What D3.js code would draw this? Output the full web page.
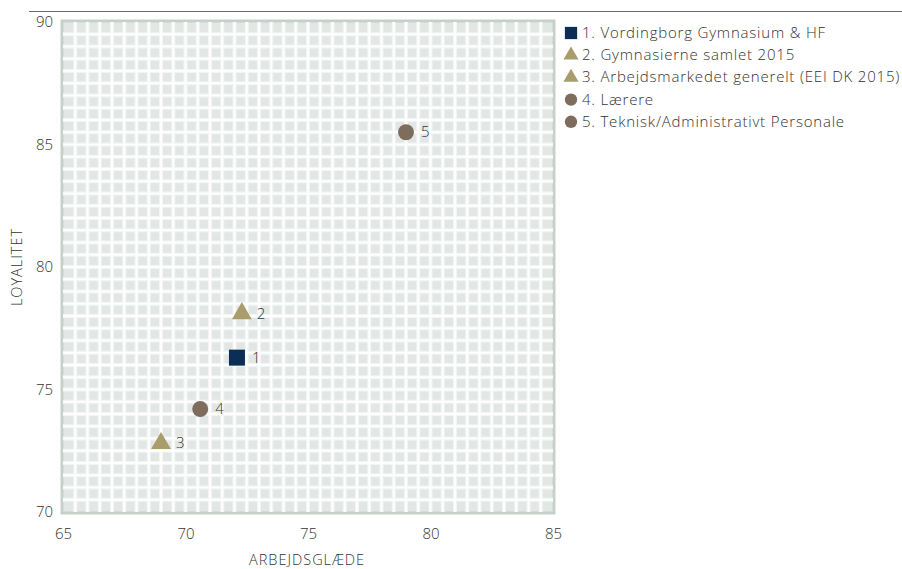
<!DOCTYPE html>
<html><head><meta charset="utf-8">
<script src="https://cdn.jsdelivr.net/npm/d3@7"></script>
<style>body{margin:0;background:#fff}svg{display:block}text{font-family:"Open Sans",sans-serif;font-weight:300;fill:#333}</style>
</head><body>
<svg id="c" width="902" height="569"></svg>
<script>
const labels = ["1. Vordingborg Gymnasium & HF","2. Gymnasierne samlet 2015","3. Arbejdsmarkedet generelt (EEI DK 2015)","4. Lærere","5. Teknisk/Administrativt Personale"];
const pointIds = ["1","2","3","4","5"];
const xValues = [72.1, 72.3, 69.0, 70.6, 79.0];
const yValues = [76.3, 78.1, 72.8, 74.2, 85.5];
const shapes = ["square","triangle","triangle","circle","circle"];
const xTicks = [65,70,75,80,85];
const yTicks = [70,75,80,85,90];
const colors = {square:"#0b2e57", triangle:"#a99c6d", circle:"#7e6c5d"};

const svg = d3.select("#c");
const x = d3.scaleLinear().domain([65,85]).range([63,553]);
const y = d3.scaleLinear().domain([70,90]).range([512,22]);

svg.append("line").attr("x1",29).attr("x2",902).attr("y1",11.5).attr("y2",11.5).attr("stroke","#6b6b6b").attr("stroke-width",1);

svg.append("rect").attr("x",x(65)-1).attr("y",y(90)-1).attr("width",x(85)-x(65)+2).attr("height",y(70)-y(90)+2)
  .attr("fill","#e2e7e5").attr("stroke","#c6d1ca").attr("stroke-width",3);
const gridX = d3.range(65.5,85,0.5), gridY = d3.range(70.5,90,0.5);
const g = svg.append("g");
g.selectAll(".gx").data(gridX).join("line").attr("x1",d=>x(d)).attr("x2",d=>x(d)).attr("y1",y(90)).attr("y2",y(70)).attr("stroke","#f2f5f4").attr("stroke-width",4);
g.selectAll(".gy").data(gridY).join("line").attr("x1",x(65)).attr("x2",x(85)).attr("y1",d=>y(d)).attr("y2",d=>y(d)).attr("stroke","#f2f5f4").attr("stroke-width",4);
g.selectAll(".gx2").data(gridX).join("line").attr("x1",d=>x(d)).attr("x2",d=>x(d)).attr("y1",y(90)).attr("y2",y(70)).attr("stroke","#ffffff").attr("stroke-width",1.6);
g.selectAll(".gy2").data(gridY).join("line").attr("x1",x(65)).attr("x2",x(85)).attr("y1",d=>y(d)).attr("y2",d=>y(d)).attr("stroke","#ffffff").attr("stroke-width",1.6);

const xa = svg.append("g").attr("transform",`translate(0,${y(70)})`).call(d3.axisBottom(x).tickValues(xTicks).tickSize(0).tickPadding(16));
xa.select(".domain").remove();
xa.selectAll("text").style("font-size","15px").attr("fill","#333").style("font-family","'Open Sans',sans-serif").style("font-weight","300");
const ya = svg.append("g").attr("transform",`translate(53,0)`).call(d3.axisLeft(y).tickValues(yTicks).tickSize(0).tickPadding(0));
ya.select(".domain").remove();
ya.selectAll("text").style("font-size","15px").attr("fill","#333").style("font-family","'Open Sans',sans-serif").style("font-weight","300");

svg.append("text").attr("x",307).attr("y",565).attr("text-anchor","middle").style("font-size","14.5px").style("letter-spacing","1px").text("ARBEJDSGLÆDE");
svg.append("text").attr("transform","translate(22,267) rotate(-90)").attr("text-anchor","middle").style("font-size","14.5px").style("letter-spacing","1px").text("LOYALITET");

const sym = {square:d3.symbolSquare, triangle:d3.symbolTriangle, circle:d3.symbolCircle};
const sizes = {square:256, triangle:170, circle:200};
const data = pointIds.map((id,i)=>({id, x:xValues[i], y:yValues[i], s:shapes[i], label:labels[i]}));

svg.selectAll(".pt").data(data).join("path")
  .attr("transform",d=>`translate(${x(d.x)},${y(d.y)})`)
  .attr("d",d=>d3.symbol(sym[d.s],sizes[d.s])())
  .attr("fill",d=>colors[d.s]);
svg.selectAll(".pl").data(data).join("text")
  .attr("x",d=>x(d.x)+15).attr("y",d=>y(d.y)+5).style("font-size","15px").text(d=>d.id);

const lg = svg.append("g").attr("transform","translate(571,33)");
const row = lg.selectAll("g").data(data).join("g").attr("transform",(d,i)=>`translate(0,${i*22.2})`);
row.append("path").attr("d",d=>d3.symbol(sym[d.s],d.s==="square"?150:d.s==="triangle"?100:120)()).attr("fill",d=>colors[d.s]);
row.append("text").attr("x",11).attr("y",5).style("font-size","15px").style("letter-spacing","0.8px").text(d=>d.label);
</script>
</body></html>
